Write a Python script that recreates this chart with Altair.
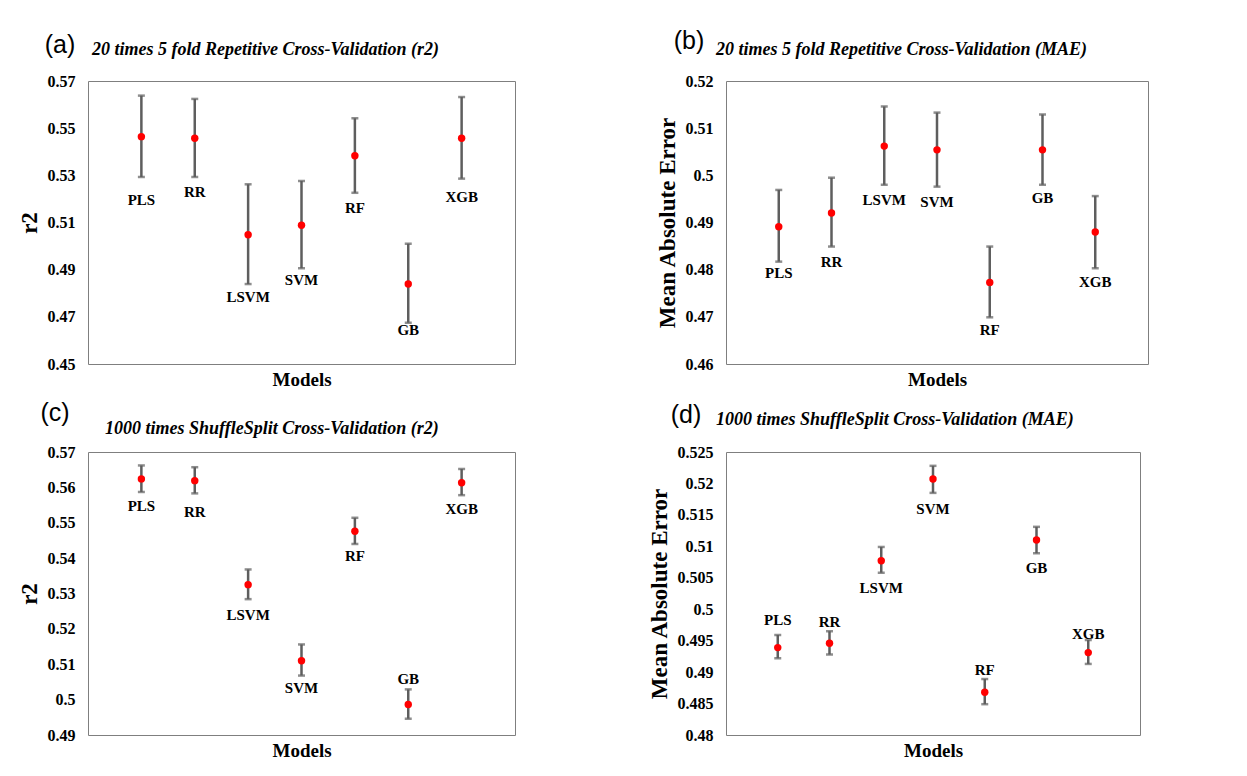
import altair as alt
import pandas as pd

models = ["PLS", "RR", "LSVM", "SVM", "RF", "GB", "XGB"]

# (a) 20x5 fold CV, r2
a_mean = [0.5464, 0.5457, 0.5048, 0.5088, 0.5383, 0.4839, 0.5457]
a_low = [0.5293, 0.5293, 0.4839, 0.4906, 0.5226, 0.4675, 0.5286]
a_high = [0.5638, 0.5624, 0.5262, 0.5276, 0.5542, 0.5010, 0.5632]
a_label = [0.5195, 0.5231, 0.4783, 0.4856, 0.5161, 0.4644, 0.5208]

# (b) 20x5 fold CV, MAE
b_mean = [0.4891, 0.4920, 0.5062, 0.5054, 0.4773, 0.5054, 0.4880]
b_low = [0.4817, 0.4849, 0.4980, 0.4976, 0.4699, 0.4980, 0.4803]
b_high = [0.4969, 0.4995, 0.5146, 0.5133, 0.4849, 0.5129, 0.4956]
b_label = [0.4792, 0.4816, 0.4947, 0.4944, 0.4673, 0.4951, 0.4774]

# (c) 1000 ShuffleSplit, r2
c_mean = [0.5624, 0.5619, 0.5325, 0.5110, 0.5476, 0.4986, 0.5613]
c_low = [0.5587, 0.5583, 0.5284, 0.5068, 0.5440, 0.4946, 0.5578]
c_high = [0.5662, 0.5657, 0.5368, 0.5156, 0.5514, 0.5029, 0.5652]
c_label = [0.5547, 0.5531, 0.5240, 0.5034, 0.5406, 0.5058, 0.5539]

# (d) 1000 ShuffleSplit, MAE
d_mean = [0.4939, 0.4946, 0.5077, 0.5207, 0.4868, 0.5110, 0.4931]
d_low = [0.4922, 0.4928, 0.5058, 0.5185, 0.4849, 0.5089, 0.4913]
d_high = [0.4959, 0.4965, 0.5099, 0.5228, 0.4889, 0.5131, 0.4951]
d_label = [0.4983, 0.4979, 0.5033, 0.5160, 0.4904, 0.5066, 0.4961]

a_ticks = [0.45, 0.47, 0.49, 0.51, 0.53, 0.55, 0.57]
b_ticks = [0.46, 0.47, 0.48, 0.49, 0.50, 0.51, 0.52]
c_ticks = [0.49, 0.50, 0.51, 0.52, 0.53, 0.54, 0.55, 0.56, 0.57]
d_ticks = [0.48, 0.485, 0.49, 0.495, 0.50, 0.505, 0.51, 0.515, 0.52, 0.525]

SERIF = "Liberation Serif"


def panel(mean, low, high, lab, ticks, ytitle, title, tag,
          tag_pos, title_pos, width, height):
    df = pd.DataFrame({"model": models, "mean": mean, "low": low,
                       "high": high, "lab": lab})
    x = alt.X("model:N", sort=models,
              scale=alt.Scale(type="point", padding=1),
              axis=alt.Axis(labels=False, ticks=False, domain=False,
                            title="Models", titleFont=SERIF,
                            titleFontWeight="bold", titleFontSize=19,
                            titleColor="black", titlePadding=6))
    yscale = alt.Scale(domain=[ticks[0], ticks[-1]], nice=False, zero=False)
    yaxis = alt.Axis(values=ticks, format=".3~f", ticks=False,
                     domain=False, grid=False, labelFont=SERIF,
                     labelFontWeight="bold", labelFontSize=16,
                     labelColor="black", labelPadding=13,
                     labelOverlap=False, labelFlush=False,
                     title=ytitle, titleFont=SERIF,
                     titleFontWeight="bold", titleFontSize=23,
                     titleColor="black", titlePadding=6)

    def Y(field):
        return alt.Y(field, type="quantitative", scale=yscale, axis=yaxis)

    base = alt.Chart(df)
    rules = base.mark_rule(color="#5e5e5e", strokeWidth=2.5).encode(
        x=x, y=Y("low"), y2="high:Q")
    cap_lo = base.mark_tick(color="#5e5e5e", size=7, thickness=2.5).encode(
        x=x, y=Y("low"))
    cap_hi = base.mark_tick(color="#5e5e5e", size=7, thickness=2.5).encode(
        x=x, y=Y("high"))
    pts = base.mark_circle(color="#ff0000", size=55, opacity=1).encode(
        x=x, y=Y("mean"))
    labels = base.mark_text(font=SERIF, fontWeight="bold", fontSize=15,
                            color="black").encode(
        x=x, y=Y("lab"), text="model:N")
    tag_df = pd.DataFrame({"t": [tag]})
    tag_mark = alt.Chart(tag_df).mark_text(
        font="Liberation Sans", fontSize=25, color="black", align="center",
        baseline="middle").encode(
        text="t:N", x=alt.value(tag_pos[0]), y=alt.value(tag_pos[1]))
    title_df = pd.DataFrame({"t": [title]})
    title_mark = alt.Chart(title_df).mark_text(
        font=SERIF, fontSize=18, fontStyle="italic", fontWeight="bold",
        color="black", align="left", baseline="middle").encode(
        text="t:N", x=alt.value(title_pos[0]), y=alt.value(title_pos[1]))
    return alt.layer(rules, cap_lo, cap_hi, pts, labels, tag_mark,
                     title_mark).properties(width=width, height=height)


pa = panel(a_mean, a_low, a_high, a_label, a_ticks, "r2",
           "20 times 5 fold Repetitive Cross-Validation (r2)", "(a)",
           (-28, -36), (4, -31), 427, 283)
pb = panel(b_mean, b_low, b_high, b_label, b_ticks, "Mean Absolute Error",
           "20 times 5 fold Repetitive Cross-Validation (MAE)", "(b)",
           (-37, -40), (-10, -31), 422, 283)
pc = panel(c_mean, c_low, c_high, c_label, c_ticks, "r2",
           "1000 times ShuffleSplit Cross-Validation (r2)", "(c)",
           (-33, -39), (17, -23), 427, 283)
pd_ = panel(d_mean, d_low, d_high, d_label, d_ticks, "Mean Absolute Error",
            "1000 times ShuffleSplit Cross-Validation (MAE)", "(d)",
            (-40, -37), (-10, -32), 414, 283)

chart = alt.concat(pa, pb, pc, pd_, columns=2,
                   spacing={"row": 10, "column": 131}).properties(
    padding={"left": 17, "top": 28, "right": 5, "bottom": 5},
    background="white"
).configure_view(stroke="#7f7f7f", strokeWidth=1)

chart.save("out.html", embed_options={"renderer": "svg", "actions": False})
